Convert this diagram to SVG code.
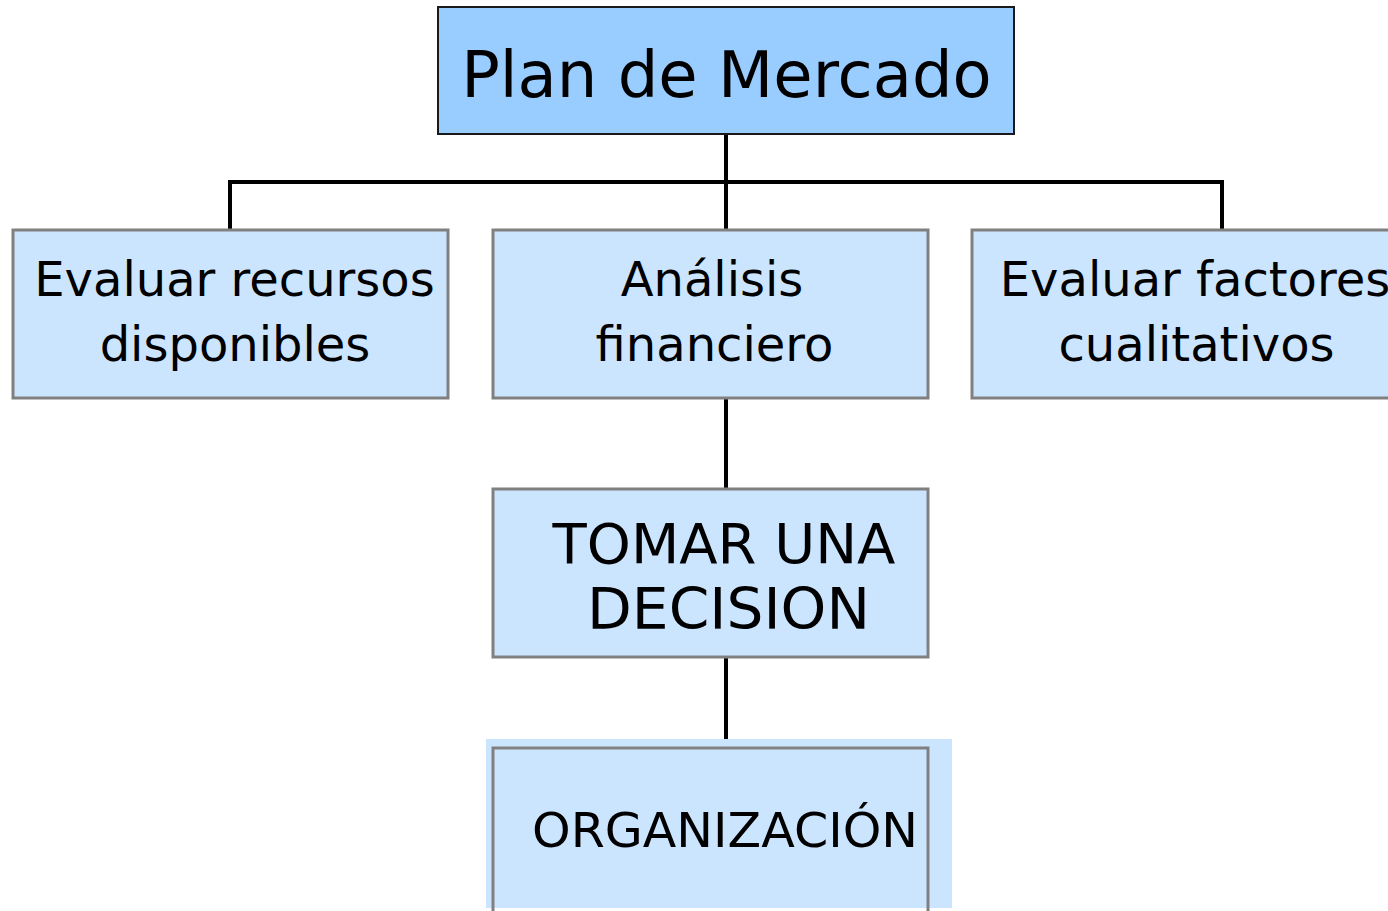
<svg xmlns="http://www.w3.org/2000/svg" width="1388" height="911" viewBox="0 0 1388 911">
<style>
.box{fill:#CCE5FF;stroke:#808080;stroke-width:3}
.top{fill:#99CCFF;stroke:#1a1a1a;stroke-width:2}
.t{font-family:"DejaVu Sans","Liberation Sans",sans-serif;fill:#000;text-anchor:middle}
.c{stroke:#000;stroke-width:4;fill:none}
</style>
<rect width="1388" height="911" fill="#fff"/>
<g id="connectors">
<line class="c" x1="726" y1="134" x2="726" y2="230"/>
<line class="c" x1="228" y1="182" x2="1224" y2="182"/>
<line class="c" x1="230" y1="182" x2="230" y2="230"/>
<line class="c" x1="1222" y1="182" x2="1222" y2="230"/>
<line class="c" x1="726" y1="398" x2="726" y2="489"/>
<line class="c" x1="726" y1="657" x2="726" y2="740"/>
</g>
<g id="plan">
<rect class="top" x="438" y="7" width="576" height="127"/>
<text class="t" x="726.5" y="97" font-size="64">Plan de Mercado</text>
</g>
<g id="recursos">
<rect class="box" x="13" y="230" width="435" height="168"/>
<text class="t" x="234.5" y="296" font-size="48">Evaluar recursos</text>
<text class="t" x="235" y="361" font-size="48">disponibles</text>
</g>
<g id="analisis">
<rect class="box" x="493" y="230" width="435" height="168"/>
<text class="t" x="712" y="296" font-size="48">Análisis</text>
<text class="t" x="714.5" y="361" font-size="48">financiero</text>
</g>
<g id="factores">
<rect class="box" x="972" y="230" width="440" height="168"/>
<text class="t" x="1195" y="296" font-size="48">Evaluar factores</text>
<text class="t" x="1196.5" y="361" font-size="48">cualitativos</text>
</g>
<g id="decision">
<rect class="box" x="493" y="489" width="435" height="168"/>
<text class="t" x="724" y="563" font-size="56">TOMAR UNA</text>
<text class="t" x="728.5" y="629" font-size="57" textLength="283" lengthAdjust="spacingAndGlyphs">DECISION</text>
</g>
<g id="organizacion">
<rect x="486" y="739" width="466" height="169" fill="#CCE5FF"/>
<path d="M493 915 V748 H928 V915" fill="none" stroke="#808080" stroke-width="3"/>
<text class="t" x="725" y="847" font-size="48" textLength="386" lengthAdjust="spacingAndGlyphs">ORGANIZACIÓN</text>
</g>
</svg>
